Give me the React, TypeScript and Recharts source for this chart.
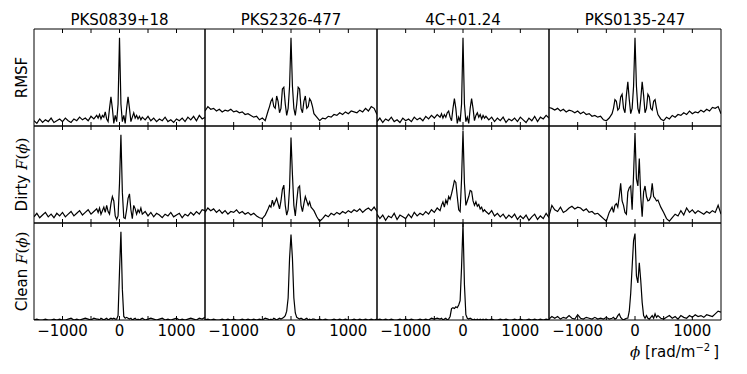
import { LineChart, Line, XAxis, YAxis, ReferenceLine } from 'recharts';

// Faraday depth samples (rad/m^2): coarse wings, finer around the peak
const phi = [
  -1500, -1450, -1400, -1350, -1300, -1250, -1200, -1150, -1100, -1050, -1000, -950, -900, -850, -800, -750, -700, -650, -600, -550, -500, -450, -400,
  -375, -350, -325, -300, -275, -250, -225, -200, -175, -150, -125, -100, -75, -50, -25, 0, 25, 50, 75, 100, 125, 150, 175, 200, 225, 250, 275, 300, 325, 350, 375,
  400, 450, 500, 550, 600, 650, 700, 750, 800, 850, 900, 950, 1000, 1050, 1100, 1150, 1200, 1250, 1300, 1350, 1400, 1450, 1500,
];

const sources = ['PKS0839+18', 'PKS2326-477', '4C+01.24', 'PKS0135-247'];
const xTicks = [-1000, -500, 0, 500, 1000];

// RMSF
const rmsf1 = [
  0.06, 0.03, 0.08, 0.04, 0.07, 0.05, 0.09, 0.04, 0.06, 0.08, 0.05, 0.09, 0.06, 0.04, 0.08, 0.06, 0.1, 0.07, 0.09, 0.06, 0.11, 0.08, 0.12,
  0.09, 0.13, 0.08, 0.12, 0.1, 0.16, 0.08, 0.05, 0.2, 0.33, 0.2, 0.03, 0.12, 0.05, 0.25, 1.0, 0.25, 0.05, 0.12, 0.03, 0.2, 0.33, 0.2, 0.05, 0.1, 0.15, 0.09, 0.12, 0.08, 0.11, 0.07,
  0.1, 0.07, 0.11, 0.06, 0.09, 0.05, 0.08, 0.06, 0.1, 0.05, 0.07, 0.04, 0.08, 0.06, 0.09, 0.05, 0.1, 0.07, 0.11, 0.06, 0.12, 0.08, 0.1,
];
const rmsf2 = [
  0.17, 0.22, 0.19, 0.2, 0.17, 0.19, 0.16, 0.18, 0.17, 0.19, 0.16, 0.17, 0.15, 0.16, 0.13, 0.14, 0.12, 0.1, 0.11, 0.07, 0.09, 0.06, 0.17,
  0.22, 0.28, 0.31, 0.22, 0.2, 0.34, 0.28, 0.15, 0.2, 0.42, 0.44, 0.25, 0.12, 0.2, 0.45, 1.0, 0.45, 0.2, 0.12, 0.25, 0.44, 0.42, 0.2, 0.15, 0.28, 0.34, 0.2, 0.22, 0.31, 0.28, 0.22,
  0.14, 0.1, 0.06, 0.09, 0.08, 0.11, 0.1, 0.13, 0.12, 0.15, 0.13, 0.16, 0.14, 0.17, 0.16, 0.15, 0.18, 0.16, 0.2, 0.17, 0.22, 0.2, 0.13,
];
const rmsf3 = [
  0.05, 0.09, 0.04, 0.08, 0.06, 0.1, 0.05, 0.07, 0.04, 0.09, 0.06, 0.08, 0.05, 0.1, 0.07, 0.09, 0.06, 0.11, 0.08, 0.12, 0.09, 0.13, 0.1,
  0.14, 0.09, 0.13, 0.1, 0.15, 0.17, 0.1, 0.06, 0.2, 0.31, 0.2, 0.03, 0.1, 0.05, 0.25, 1.0, 0.25, 0.05, 0.1, 0.03, 0.2, 0.31, 0.2, 0.06, 0.12, 0.15, 0.1, 0.13, 0.08, 0.12, 0.09,
  0.11, 0.07, 0.1, 0.05, 0.09, 0.06, 0.1, 0.04, 0.08, 0.06, 0.09, 0.05, 0.1, 0.07, 0.04, 0.09, 0.06, 0.11, 0.05, 0.1, 0.08, 0.12, 0.09,
];
const rmsf4 = [
  0.21, 0.2, 0.18, 0.2, 0.17, 0.19, 0.16, 0.18, 0.17, 0.15, 0.17, 0.14, 0.16, 0.13, 0.14, 0.11, 0.12, 0.1, 0.11, 0.07, 0.06, 0.09, 0.14,
  0.2, 0.3, 0.28, 0.18, 0.2, 0.33, 0.36, 0.2, 0.15, 0.35, 0.5, 0.3, 0.14, 0.2, 0.45, 1.0, 0.45, 0.2, 0.14, 0.3, 0.5, 0.35, 0.15, 0.2, 0.36, 0.33, 0.2, 0.18, 0.28, 0.3, 0.2,
  0.13, 0.08, 0.06, 0.1, 0.08, 0.12, 0.1, 0.13, 0.12, 0.15, 0.13, 0.17, 0.14, 0.16, 0.15, 0.18, 0.16, 0.19, 0.17, 0.21, 0.2, 0.22, 0.14,
];

// dirty F(phi)
const dirty1 = [
  0.07, 0.11, 0.06, 0.09, 0.12, 0.07, 0.1, 0.06, 0.11, 0.08, 0.12, 0.07, 0.1, 0.13, 0.08, 0.11, 0.14, 0.09, 0.12, 0.15, 0.1, 0.13, 0.16,
  0.12, 0.17, 0.1, 0.14, 0.18, 0.12, 0.2, 0.13, 0.1, 0.22, 0.3, 0.25, 0.08, 0.04, 0.08, 0.45, 1.0, 0.35, 0.06, 0.05, 0.15, 0.28, 0.33, 0.15, 0.05, 0.2, 0.16, 0.1, 0.15, 0.12, 0.17,
  0.1, 0.13, 0.08, 0.12, 0.07, 0.11, 0.09, 0.06, 0.1, 0.08, 0.12, 0.07, 0.09, 0.11, 0.06, 0.1, 0.08, 0.12, 0.09, 0.13, 0.1, 0.15, 0.14,
];
const dirty2 = [
  0.12, 0.17, 0.14, 0.16, 0.12, 0.15, 0.11, 0.14, 0.1, 0.13, 0.12, 0.15, 0.11, 0.13, 0.1, 0.12, 0.09, 0.11, 0.08, 0.06, 0.05, 0.09, 0.16,
  0.2, 0.18, 0.26, 0.2, 0.24, 0.28, 0.22, 0.16, 0.25, 0.38, 0.43, 0.2, 0.09, 0.15, 0.4, 0.97, 0.55, 0.2, 0.08, 0.25, 0.4, 0.42, 0.2, 0.13, 0.22, 0.3, 0.25, 0.2, 0.24, 0.18, 0.16,
  0.14, 0.07, 0.02, 0.05, 0.09, 0.07, 0.11, 0.09, 0.12, 0.1, 0.13, 0.11, 0.14, 0.12, 0.15, 0.13, 0.16, 0.12, 0.15, 0.17, 0.14, 0.18, 0.13,
];
const dirty3 = [
  0.1, 0.05, 0.09, 0.03, 0.08, 0.06, 0.11, 0.04, 0.09, 0.07, 0.05, 0.1, 0.06, 0.12, 0.08, 0.11, 0.09, 0.13, 0.1, 0.15, 0.12, 0.17, 0.14,
  0.2, 0.24, 0.18, 0.26, 0.22, 0.3, 0.27, 0.33, 0.4, 0.48, 0.46, 0.3, 0.15, 0.13, 0.5, 1.05, 0.45, 0.2, 0.25, 0.3, 0.37, 0.36, 0.25, 0.2, 0.24, 0.19, 0.21, 0.16, 0.18, 0.13, 0.15,
  0.13, 0.1, 0.14, 0.08, 0.11, 0.07, 0.1, 0.05, 0.09, 0.06, 0.1, 0.04, 0.08, 0.05, 0.09, 0.03, 0.07, 0.1, 0.04, 0.08, 0.05, 0.11, 0.06,
];
const dirty4 = [
  0.08, 0.2, 0.15, 0.13, 0.18, 0.12, 0.14, 0.17, 0.19, 0.16, 0.18, 0.17, 0.14, 0.16, 0.12, 0.13, 0.1, 0.11, 0.08, 0.05, 0.02, 0.12, 0.18,
  0.12, 0.2, 0.22, 0.18, 0.3, 0.45, 0.25, 0.2, 0.12, 0.1, 0.35, 0.4, 0.42, 0.15, 0.55, 1.02, 0.5, 0.42, 0.73, 0.3, 0.07, 0.35, 0.42, 0.3, 0.25, 0.26, 0.3, 0.45, 0.3, 0.28, 0.25,
  0.26, 0.18, 0.12, 0.05, 0.02, 0.06, 0.1, 0.08, 0.14, 0.09, 0.17, 0.12, 0.15, 0.11, 0.14, 0.12, 0.1, 0.13, 0.11, 0.14, 0.12, 0.2, 0.1,
];

// clean F(phi)
const clean1 = [
  0, 0.01, 0, 0, 0.01, 0, 0, 0.01, 0, 0.01, 0, 0, 0.01, 0.02, 0, 0.01, 0, 0.01, 0.02, 0.01, 0, 0.02, 0.01,
  0.01, 0, 0.02, 0.01, 0, 0.01, 0.02, 0, 0.01, 0.02, 0.01, 0.02, 0.01, 0.01, 0.05, 0.55, 1.0, 0.35, 0.04, 0.02, 0.03, 0.02, 0.01, 0.02, 0, 0.01, 0.02, 0, 0.01, 0, 0.01,
  0.02, 0, 0.01, 0.02, 0.01, 0, 0.01, 0.02, 0, 0.01, 0, 0.01, 0.02, 0, 0.01, 0, 0.01, 0.02, 0.01, 0, 0.02, 0.01, 0.03,
];
const clean2 = [
  0, 0.01, 0, 0.01, 0, 0, 0.01, 0, 0.01, 0, 0.01, 0, 0, 0.01, 0, 0.01, 0, 0.01, 0, 0.01, 0, 0.02, 0.01,
  0, 0.01, 0, 0.02, 0.01, 0, 0.01, 0.02, 0.01, 0.02, 0.03, 0.05, 0.1, 0.25, 0.7, 0.97, 0.7, 0.25, 0.08, 0.03, 0.02, 0.01, 0.02, 0.01, 0, 0.01, 0.02, 0, 0.01, 0, 0.01,
  0.01, 0, 0.01, 0, 0.01, 0, 0, 0.01, 0, 0.01, 0, 0.01, 0, 0, 0.01, 0, 0.01, 0, 0.01, 0, 0.01, 0, 0.01,
];
const clean3 = [
  0, 0.01, 0, 0.01, 0, 0.01, 0, 0, 0.01, 0, 0.01, 0, 0.01, 0, 0, 0.01, 0, 0.01, 0, 0.02, 0.01, 0.02, 0.01,
  0.02, 0, 0.01, 0.02, 0, 0.01, 0.04, 0.13, 0.14, 0.13, 0.15, 0.14, 0.17, 0.22, 0.6, 1.1, 0.4, 0.06, 0.02, 0.01, 0.02, 0.01, 0, 0.01, 0, 0.01, 0, 0.01, 0, 0.01, 0,
  0.01, 0, 0.01, 0, 0, 0.01, 0, 0.01, 0, 0, 0.01, 0, 0.01, 0, 0, 0.01, 0, 0.01, 0, 0.01, 0, 0.01, 0,
];
const clean4 = [
  0.01, 0.04, 0.02, 0.04, 0.01, 0.03, 0.02, 0.05, 0.02, 0.01, 0.06, 0.02, 0.01, 0.03, 0.02, 0.01, 0.03, 0.01, 0.02, 0.01, 0.03, 0.01, 0.02,
  0.03, 0.01, 0.02, 0.05, 0.07, 0.03, 0.01, 0, 0.01, 0.02, 0.02, 0.1, 0.3, 0.6, 0.9, 0.98, 0.5, 0.42, 0.65, 0.45, 0.2, 0.05, 0.02, 0.05, 0.02, 0.01, 0.03, 0.05, 0.02, 0.07, 0.03,
  0.05, 0.02, 0.01, 0.03, 0.05, 0.02, 0.04, 0.01, 0.05, 0.03, 0.02, 0.05, 0.03, 0.06, 0.04, 0.05, 0.03, 0.06, 0.05, 0.04, 0.07, 0.1, 0.09,
];

const rows = [
  [rmsf1, rmsf2, rmsf3, rmsf4],
  [dirty1, dirty2, dirty3, dirty4],
  [clean1, clean2, clean3, clean4],
];

const colX = [34, 205, 377, 549, 721];
const rowY = [29, 126, 223, 320];
const font = 'DejaVu Sans';
const FS = 15;
const Y_MAX = 1.1;
const TICK_LEN = (4 / 97) * Y_MAX; // ~4px inward tick, in data units

const fmt = (v: number) => (v % 1000 === 0 ? (v < 0 ? '\u2212' + Math.abs(v) : String(v)) : '');

function BottomLabel({ x, y, payload }: any) {
  return (
    <text x={x} y={y + 15.5} textAnchor="middle" fontFamily={font} fontSize={FS} fill="#000">
      {fmt(payload.value)}
    </text>
  );
}

function Panel({ values, col, row }: { values: number[]; col: number; row: number }) {
  const data = phi.map((p, i) => ({ phi: p, v: values[i] }));
  const bottom = row === 2;
  const axisH = bottom ? 30 : 0;
  const w = colX[col + 1] - colX[col];
  const h = rowY[row + 1] - rowY[row];
  return (
    <div style={{ position: 'absolute', left: colX[col] - 1, top: rowY[row] - 1 }}>
      <LineChart width={w + 2} height={h + 2 + axisH} data={data} margin={{ top: 1, right: 1, bottom: 1, left: 1 }}>
        <XAxis
          dataKey="phi"
          type="number"
          domain={[-1500, 1500]}
          allowDataOverflow
          ticks={xTicks}
          interval={0}
          height={axisH}
          axisLine={false}
          tickLine={false}
          tickSize={0}
          tickMargin={0}
          tick={bottom ? (p: any) => <BottomLabel {...p} /> : false}
        />
        <YAxis domain={[0, Y_MAX]} allowDataOverflow width={0} tick={false} tickLine={false} axisLine={false} />
        {xTicks.map((t) => (
          <ReferenceLine key={`b${t}`} segment={[{ x: t, y: 0 }, { x: t, y: TICK_LEN }]} stroke="#000" ifOverflow="visible" />
        ))}
        {xTicks.map((t) => (
          <ReferenceLine key={`t${t}`} segment={[{ x: t, y: Y_MAX }, { x: t, y: Y_MAX - TICK_LEN }]} stroke="#000" ifOverflow="visible" />
        ))}
        <ReferenceLine x={-1500} stroke="#000" strokeWidth={1} ifOverflow="visible" />
        <ReferenceLine x={1500} stroke="#000" strokeWidth={1} ifOverflow="visible" />
        <ReferenceLine y={0} stroke="#000" strokeWidth={1} ifOverflow="visible" />
        <ReferenceLine y={Y_MAX} stroke="#000" strokeWidth={1} ifOverflow="visible" />
        <Line type="linear" dataKey="v" stroke="#000" strokeWidth={1.2} dot={false} isAnimationActive={false} />
      </LineChart>
    </div>
  );
}

const rowLabels = ['RMSF', 'Dirty', 'Clean'];

export default function App() {
  return (
    <div style={{ position: 'absolute', left: 0, top: 0, width: 747, height: 374, background: '#fff' }}>
      {rows.map((r, ri) => r.map((vals, ci) => <Panel key={`${ri}-${ci}`} values={vals} col={ci} row={ri} />))}
      <svg width={747} height={374} style={{ position: 'absolute', left: 0, top: 0, pointerEvents: 'none' }}>
        {sources.map((s, i) => (
          <text key={s} x={(colX[i] + colX[i + 1]) / 2} y={25} textAnchor="middle" fontFamily={font} fontSize={FS} fill="#000">
            {s}
          </text>
        ))}
        {rowLabels.map((l, i) => {
          const cy = (rowY[i] + rowY[i + 1]) / 2;
          return (
            <text
              key={l}
              x={22}
              y={cy}
              transform={`rotate(-90 22 ${cy})`}
              textAnchor="middle"
              dominantBaseline="central"
              fontFamily={font}
              fontSize={FS}
              fill="#000"
            >
              {l}
              {i > 0 && (
                <>
                  {' '}
                  <tspan fontFamily="DejaVu Serif" fontStyle="italic">F</tspan>
                  <tspan fontFamily="DejaVu Serif">(</tspan>
                  <tspan fontFamily="DejaVu Serif" fontStyle="italic">{'\u03D5'}</tspan>
                  <tspan fontFamily="DejaVu Serif">)</tspan>
                </>
              )}
            </text>
          );
        })}
        <text x={719} y={357} textAnchor="end" fontFamily={font} fontSize={FS} fill="#000">
          <tspan fontFamily="DejaVu Serif" fontStyle="italic">{'\u03D5'}</tspan>
          {' [rad/m'}
          <tspan fontSize={10} dy={-6}>{'\u22122'}</tspan>
          <tspan dy={6}>{'\u2009]'}</tspan>
        </text>
      </svg>
    </div>
  );
}
